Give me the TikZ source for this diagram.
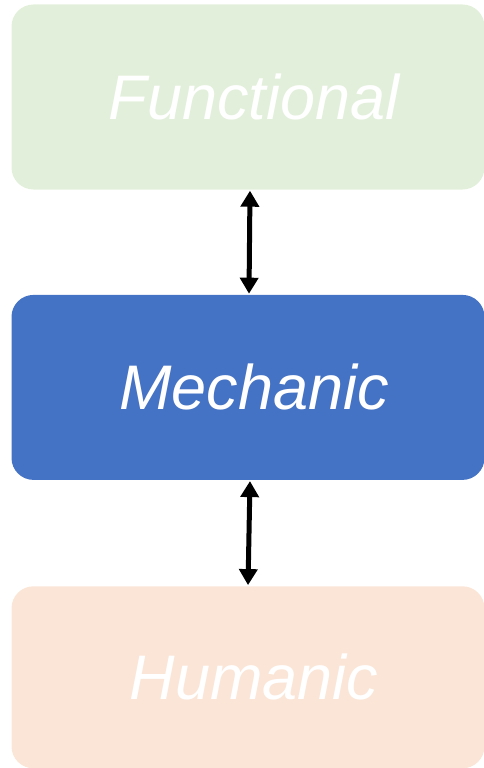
\documentclass[tikz,border=0pt]{standalone}
\usepackage{fontspec}
\setmainfont{Liberation Sans}
\usepackage{tikz}
\usetikzlibrary{positioning,arrows.meta}
\definecolor{funcg}{HTML}{E2EFDA}
\definecolor{mechb}{HTML}{4472C4}
\definecolor{humap}{HTML}{FBE5D6}
\tikzset{
  layer/.style={rounded corners=22pt, align=center, text=white,
                font=\fontsize{63}{70}\selectfont\itshape,
                execute at begin node=\hspace*{12pt},
                minimum width=473pt, minimum height=185pt, inner sep=0pt},
  link/.style={{Triangle[length=16pt,width=18pt]}-{Triangle[length=16pt,width=18pt]},
               line width=5pt, black, shorten <=1pt, shorten >=1pt},
}
\begin{document}
\begin{tikzpicture}[x=1pt, y=-1pt, node distance=105pt]
\useasboundingbox (0,0) rectangle (484,768);
\node[layer, fill=funcg] (func) at (248,97) {Functional};
\node[layer, fill=mechb] (mech) [below=105pt of func] {Mechanic};
\node[layer, fill=humap, minimum height=182pt] (huma) [below=106pt of mech] {Humanic};
\draw[link] ([xshift=2pt]func.south) -- ([xshift=1pt]mech.north);
\draw[link] ([xshift=2pt]mech.south) -- ([xshift=0pt]huma.north);
\end{tikzpicture}
\end{document}
